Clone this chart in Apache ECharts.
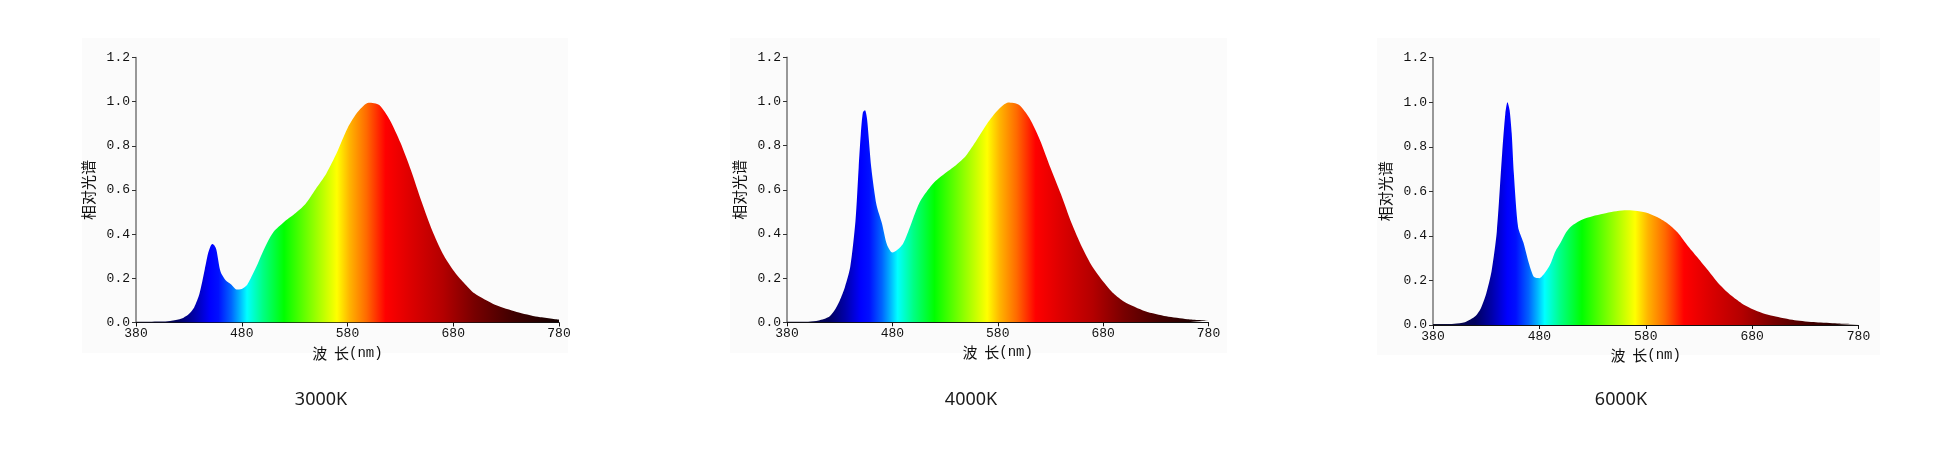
<!DOCTYPE html>
<html>
<head>
<meta charset="utf-8">
<title>相对光谱</title>
<script src="https://cdn.jsdelivr.net/npm/echarts@6/dist/echarts.min.js"></script>
<style>
  html, body { margin: 0; padding: 0; background: #fff; }
  #main { width: 1950px; height: 460px; }
</style>
</head>
<body>
<div id="main"></div>
<script>
// 波长 (nm)
const wavelengths = [380, 390, 400, 410, 420, 425, 430, 435, 440, 445, 448, 450, 452, 454, 456, 460,
  465, 470, 475, 480, 485, 490, 495, 500, 505, 510, 520, 530, 540, 550, 560, 570, 580, 590, 600,
  610, 620, 630, 640, 650, 660, 670, 680, 690, 700, 720, 740, 760, 780]

const spec3000 = [0.003, 0.003, 0.004, 0.006, 0.014, 0.022, 0.038, 0.068, 0.13, 0.24, 0.31, 0.34, 0.355, 0.35, 0.33, 0.23,
  0.19, 0.172, 0.15, 0.152, 0.17, 0.215, 0.265, 0.32, 0.37, 0.41, 0.455, 0.492, 0.536, 0.605, 0.675, 0.77, 0.88, 0.955, 0.995,
  0.985, 0.917, 0.815, 0.69, 0.548, 0.418, 0.313, 0.237, 0.18, 0.132, 0.079, 0.048, 0.026, 0.013]

const spec4000 = [0.002, 0.002, 0.003, 0.008, 0.025, 0.053, 0.098, 0.16, 0.25, 0.46, 0.7, 0.85, 0.95, 0.96, 0.92, 0.7,
  0.53, 0.45, 0.35, 0.316, 0.33, 0.355, 0.41, 0.475, 0.535, 0.575, 0.635, 0.675, 0.71, 0.755, 0.825, 0.9, 0.96, 0.995, 0.985,
  0.925, 0.826, 0.7, 0.58, 0.45, 0.34, 0.25, 0.185, 0.13, 0.093, 0.05, 0.027, 0.014, 0.008]

const spec6000 = [0.004, 0.004, 0.006, 0.012, 0.04, 0.075, 0.14, 0.24, 0.42, 0.77, 0.95, 1.0, 0.965, 0.86, 0.68, 0.44,
  0.37, 0.28, 0.215, 0.21, 0.233, 0.27, 0.33, 0.37, 0.415, 0.443, 0.472, 0.488, 0.499, 0.509, 0.515, 0.513, 0.505, 0.486, 0.458,
  0.415, 0.352, 0.295, 0.237, 0.178, 0.133, 0.098, 0.072, 0.053, 0.04, 0.021, 0.012, 0.007, 0.004]

const cctNames = ['3000K', '4000K', '6000K']
const xTicks = [380, 480, 580, 680, 780]

const allSpecs = [spec3000, spec4000, spec6000]

// 每个小图的位置
const layout = [
  { left: 136, top: 57.5, width: 423, height: 265, panel: [82, 38, 486, 315], cap: 321 },
  { left: 787, top: 57.3, width: 421.5, height: 265, panel: [730, 38, 497, 315], cap: 971 },
  { left: 1433, top: 57.7, width: 425.5, height: 267.3, panel: [1377, 38, 503, 317], cap: 1621 },
]

// 光谱颜色 (按波长)
const specStops = [
  [380, '#14142a'], [420, '#000060'], [435, '#0000a8'], [450, '#0000ff'], [458, '#0010ff'],
  [470, '#0064ff'], [478, '#00b4ff'], [485, '#00ffff'], [500, '#00ff84'], [520, '#00ff00'],
  [545, '#80ff00'], [570, '#ffff00'], [582, '#ffb400'], [598, '#ff6a00'], [616, '#ff0000'],
  [640, '#dc0000'], [670, '#b40000'], [700, '#780000'], [735, '#420000'], [780, '#120000'],
]

function spectrumFill() {
  return new echarts.graphic.LinearGradient(0, 0, 1, 0,
    specStops.map(([w, c]) => ({ offset: (w - 380) / 400, color: c })))
}

const monoFont = '"Liberation Mono", "DejaVu Sans Mono", monospace'
const cjkFont = '"Noto Sans CJK SC", sans-serif'

const option = {
  animation: false,
  grid: layout.map(l => ({ left: l.left, top: l.top, width: l.width, height: l.height })),
  xAxis: layout.map((l, i) => ({
    type: 'value',
    gridIndex: i,
    min: 380,
    max: 780,
    name: '{c|波  长}{m|(nm)}',
    nameLocation: 'middle',
    nameGap: 13,
    nameTextStyle: {
      color: '#111',
      rich: {
        c: { fontFamily: cjkFont, fontSize: 15, color: '#111' },
        m: { fontFamily: monoFont, fontSize: 14, color: '#111' },
      },
    },
    axisLine: { lineStyle: { color: '#111', width: 1.2 } },
    axisTick: { customValues: xTicks, length: 4, lineStyle: { color: '#111' } },
    axisLabel: { customValues: xTicks, fontFamily: monoFont, fontSize: 13, color: '#111', margin: 5 },
    splitLine: { show: false },
  })),
  yAxis: layout.map((l, i) => ({
    type: 'value',
    gridIndex: i,
    min: 0,
    max: 1.2,
    interval: 0.2,
    name: '相对光谱',
    nameLocation: 'middle',
    nameRotate: 90,
    nameGap: 40,
    nameTextStyle: { fontFamily: cjkFont, fontSize: 15, color: '#111' },
    axisLine: { show: true, lineStyle: { color: '#777', width: 1.5 } },
    axisTick: { show: true, length: 4, lineStyle: { color: '#333' } },
    axisLabel: { fontFamily: monoFont, fontSize: 13, color: '#111', margin: 6, formatter: v => v.toFixed(1) },
    splitLine: { show: false },
  })),
  series: allSpecs.map((vals, i) => ({
    type: 'line',
    xAxisIndex: i,
    yAxisIndex: i,
    data: wavelengths.map((w, k) => [w, vals[k]]),
    showSymbol: false,
    smooth: 0.25,
    lineStyle: { width: 0, opacity: 0 },
    areaStyle: { color: spectrumFill(), opacity: 1 },
    silent: true,
    z: 3,
  })),
  graphic: [
    ...layout.map(l => ({
      type: 'rect',
      z: -10,
      shape: { x: l.panel[0], y: l.panel[1], width: l.panel[2], height: l.panel[3] },
      style: { fill: '#fbfbfb' },
      silent: true,
    })),
    ...layout.map((l, i) => ({
      type: 'text',
      x: l.cap,
      y: 400,
      style: {
        text: cctNames[i],
        font: '18px "Noto Sans", sans-serif',
        fill: '#1a1a1a',
        align: 'center',
        verticalAlign: 'middle',
      },
    })),
  ],
}

const chart = echarts.init(document.getElementById('main'))
chart.setOption(option)
</script>
</body>
</html>
